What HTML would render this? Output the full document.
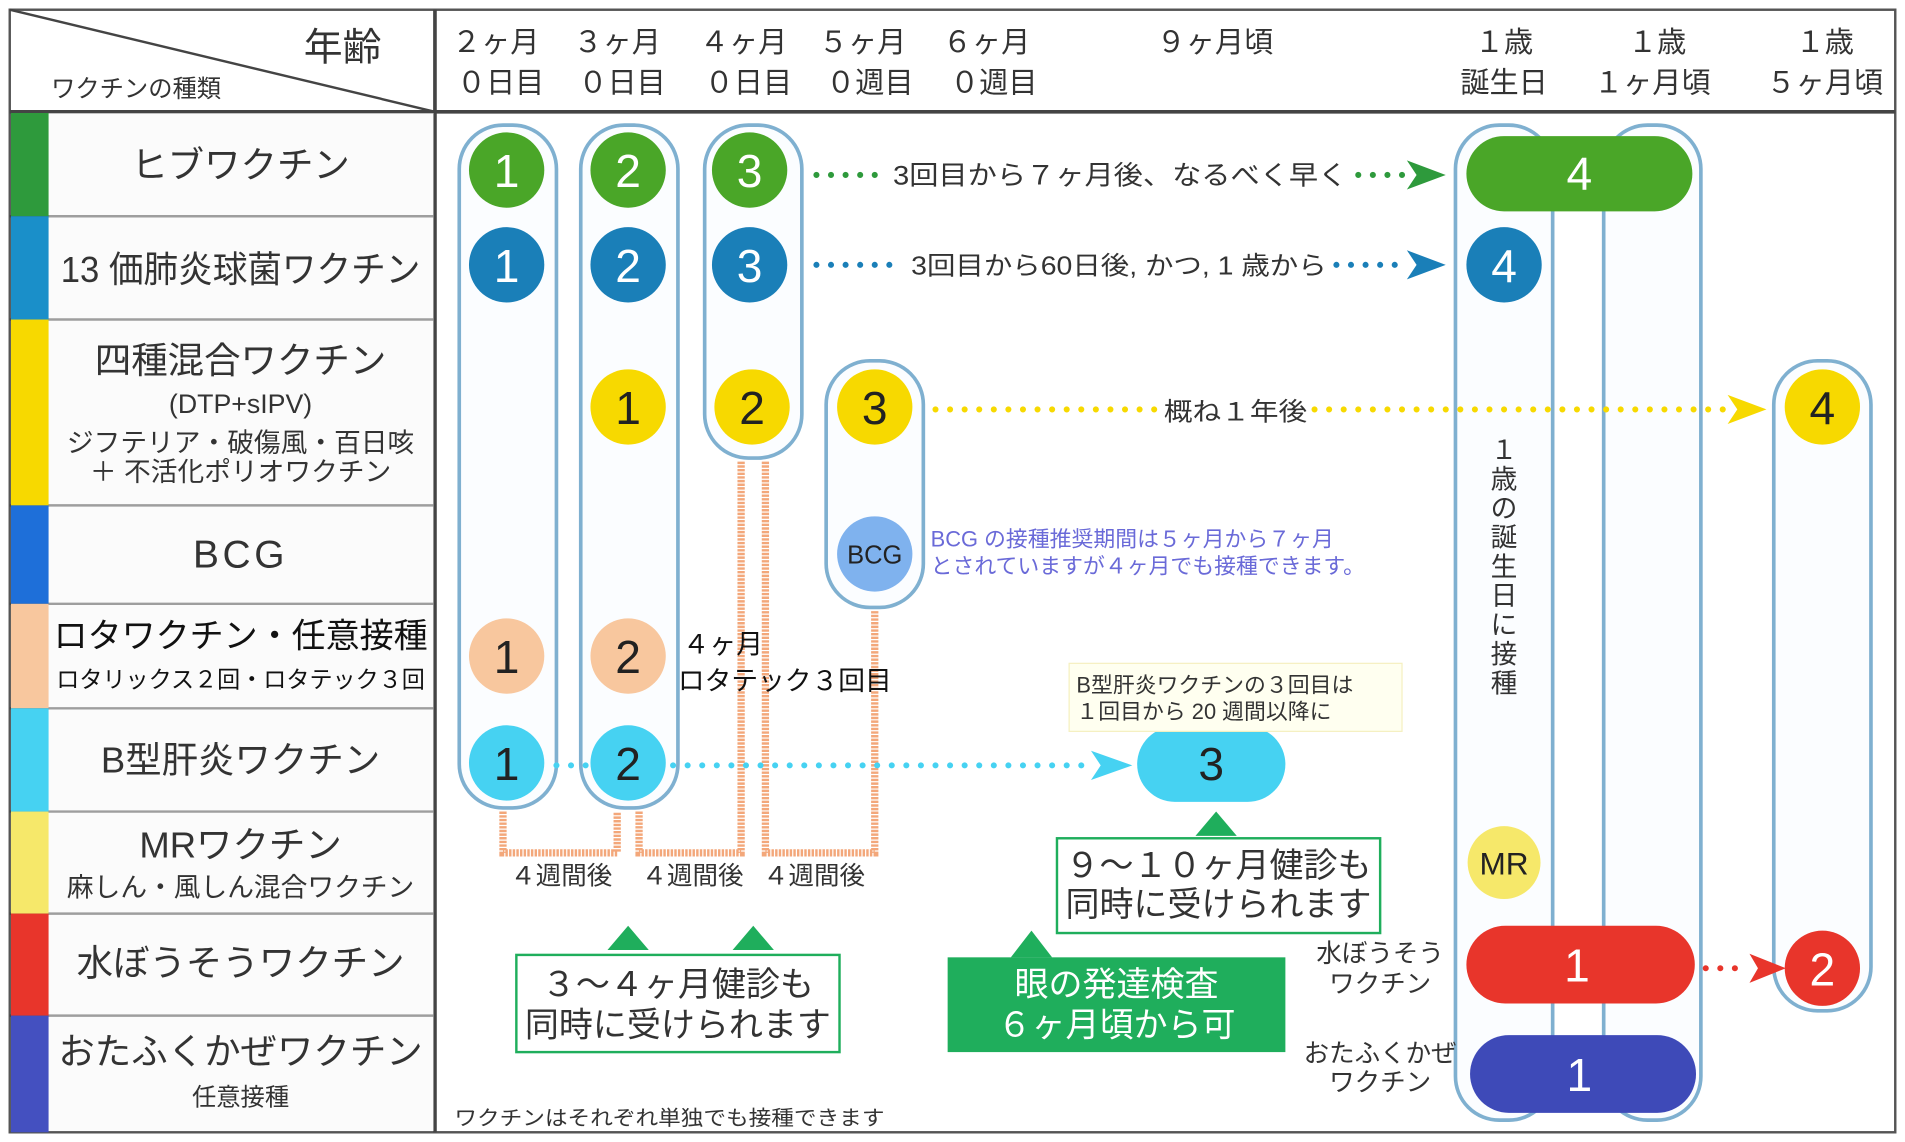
<!DOCTYPE html>
<html><head><meta charset="utf-8"><style>
html,body{margin:0;padding:0;background:#fff;}
svg{display:block;}
text{font-family:"Liberation Sans","Noto Sans CJK JP",sans-serif;}
</style></head><body>
<svg width="1905" height="1142" viewBox="0 0 1568 940" xmlns="http://www.w3.org/2000/svg">
<rect width="1568" height="940" fill="#fff"/>
<g stroke="#444" stroke-width="2" fill="none">
<rect x="8" y="8" width="1552" height="924" stroke="#555"/>
<line x1="358" y1="8" x2="358" y2="932" stroke-width="3"/>
<line x1="8" y1="92" x2="1560" y2="92" stroke-width="3"/>
<line x1="8" y1="8" x2="358" y2="92" stroke-width="2"/>
<line x1="8" y1="178" x2="358" y2="178"/>
<line x1="8" y1="263" x2="358" y2="263"/>
<line x1="8" y1="416" x2="358" y2="416"/>
<line x1="8" y1="497" x2="358" y2="497"/>
<line x1="8" y1="583" x2="358" y2="583"/>
<line x1="8" y1="668" x2="358" y2="668"/>
<line x1="8" y1="752" x2="358" y2="752"/>
<line x1="8" y1="836" x2="358" y2="836"/>
</g>
<rect x="9" y="93" width="31" height="85" fill="#2e9a3c"/>
<rect x="9" y="178" width="31" height="85" fill="#1a8fc9"/>
<rect x="9" y="263" width="31" height="153" fill="#f7d900"/>
<rect x="9" y="416" width="31" height="81" fill="#1e6fd9"/>
<rect x="9" y="497" width="31" height="86" fill="#f8c79e"/>
<rect x="9" y="583" width="31" height="85" fill="#46d2f2"/>
<rect x="9" y="668" width="31" height="84" fill="#f6e86a"/>
<rect x="9" y="752" width="31" height="84" fill="#e8352b"/>
<rect x="9" y="836" width="31" height="96" fill="#4450c0"/>
<rect x="40" y="93" width="317" height="838" fill="#f7f7f7" opacity="0.5"/>
<g fill="#333" font-size="30" text-anchor="middle">
<text x="282" y="50" font-size="32">年齢</text>
<text x="112" y="80" font-size="20">ワクチンの種類</text>
<text x="198" y="146">ヒブワクチン</text>
<text x="198" y="232" textLength="296" lengthAdjust="spacingAndGlyphs">13 価肺炎球菌ワクチン</text>
<text x="198" y="307">四種混合ワクチン</text>
<text x="198" y="340" font-size="22">(DTP+sIPV)</text>
<text x="198" y="372" font-size="22">ジフテリア・破傷風・百日咳</text>
<text x="198" y="396" font-size="22">＋ 不活化ポリオワクチン</text>
<text x="198" y="467" font-size="32" letter-spacing="3">BCG</text>
<text x="198" y="533" font-size="28" fill="#111">ロタワクチン・任意接種</text>
<text x="198" y="566" font-size="19" fill="#111">ロタリックス２回・ロタテック３回</text>
<text x="198" y="636">B型肝炎ワクチン</text>
<text x="198" y="706">MRワクチン</text>
<text x="198" y="738" font-size="22">麻しん・風しん混合ワクチン</text>
<text x="198" y="803">水ぼうそうワクチン</text>
<text x="198" y="876">おたふくかぜワクチン</text>
<text x="198" y="910" font-size="20">任意接種</text>
</g>
<g fill="#333" font-size="24" text-anchor="middle">
<text x="408" y="43">２ヶ月</text><text x="412" y="76">０日目</text>
<text x="508" y="43">３ヶ月</text><text x="512" y="76">０日目</text>
<text x="612" y="43">４ヶ月</text><text x="616" y="76">０日目</text>
<text x="710" y="43">５ヶ月</text><text x="716" y="76">０週目</text>
<text x="812" y="43">６ヶ月</text><text x="818" y="76">０週目</text>
<text x="1000" y="43">９ヶ月頃</text>
<text x="1238" y="43">１歳</text><text x="1238" y="76">誕生日</text>
<text x="1364" y="43">１歳</text><text x="1360" y="76">１ヶ月頃</text>
<text x="1502" y="43">１歳</text><text x="1502" y="76">５ヶ月頃</text>
</g>
<g fill="#fbfdff" stroke="#7fb0d0" stroke-width="3">
<rect x="378" y="103" width="80" height="562" rx="36"/>
<rect x="478" y="103" width="80" height="562" rx="36"/>
<rect x="580" y="103" width="80" height="274" rx="36"/>
<rect x="680" y="297" width="80" height="203" rx="36"/>
<rect x="1198" y="103" width="80" height="819" rx="36"/>
<rect x="1320" y="103" width="80" height="819" rx="36"/>
<rect x="1460" y="297" width="80" height="535" rx="36"/>
</g>
<g stroke="#f3a77a" stroke-width="6" fill="none" stroke-dasharray="2 1">
<path d="M414 668 V702 H508 V668"/>
<path d="M526 668 V702 H610 V380"/>
<path d="M630 380 V702 H720 V503"/>
</g>
<g fill="#333" font-size="21" text-anchor="middle">
<text x="462" y="728">４週間後</text><text x="570" y="728">４週間後</text><text x="670" y="728">４週間後</text>
</g>
<g stroke-width="5" stroke-linecap="round" fill="none" stroke-dasharray="0 12">
<line x1="672" y1="144" x2="724" y2="144" stroke="#2e9a3c"/>
<line x1="1118" y1="144" x2="1160" y2="144" stroke="#2e9a3c"/>
<line x1="672" y1="218" x2="740" y2="218" stroke="#1a7fb8"/>
<line x1="1100" y1="218" x2="1160" y2="218" stroke="#1a7fb8"/>
<line x1="770" y1="337" x2="952" y2="337" stroke="#f7d900"/>
<line x1="1082" y1="337" x2="1424" y2="337" stroke="#f7d900"/>
<line x1="458" y1="630" x2="900" y2="630" stroke="#46d2f2"/>
<line x1="1404" y1="797" x2="1440" y2="797" stroke="#e8352b"/>
</g>
<polygon points="1158,132 1190,144 1158,156 1166,144" fill="#2e9a3c"/>
<polygon points="1158,206 1190,218 1158,230 1166,218" fill="#1a7fb8"/>
<polygon points="1422,325 1454,337 1422,349 1430,337" fill="#f7d900"/>
<polygon points="898,618 932,630 898,642 906,630" fill="#46d2f2"/>
<polygon points="1440,785 1470,797 1440,809 1447,797" fill="#e8352b"/>
<g fill="#333" font-size="22">
<text x="735" y="152" textLength="374" lengthAdjust="spacingAndGlyphs">3回目から７ヶ月後、なるべく早く</text>
<text x="750" y="226" font-size="21" textLength="342" lengthAdjust="spacingAndGlyphs">3回目から60日後, かつ, 1 歳から</text>
<text x="958" y="346" font-size="21" textLength="118" lengthAdjust="spacingAndGlyphs">概ね１年後</text>
</g>
<g font-size="38" text-anchor="middle" fill="#fff">
<circle cx="417" cy="140" r="31" fill="#4aa628"/><text x="417" y="154">1</text>
<circle cx="517" cy="140" r="31" fill="#4aa628"/><text x="517" y="154">2</text>
<circle cx="617" cy="140" r="31" fill="#4aa628"/><text x="617" y="154">3</text>
<rect x="1207" y="112" width="186" height="62" rx="31" fill="#4aa628"/><text x="1300" y="156">4</text>
<circle cx="417" cy="218" r="31" fill="#1a7fb8"/><text x="417" y="232">1</text>
<circle cx="517" cy="218" r="31" fill="#1a7fb8"/><text x="517" y="232">2</text>
<circle cx="617" cy="218" r="31" fill="#1a7fb8"/><text x="617" y="232">3</text>
<circle cx="1238" cy="218" r="31" fill="#1a7fb8"/><text x="1238" y="232">4</text>
<g fill="#222">
<circle cx="517" cy="335" r="31" fill="#f7d900"/><text x="517" y="349">1</text>
<circle cx="619" cy="335" r="31" fill="#f7d900"/><text x="619" y="349">2</text>
<circle cx="720" cy="335" r="31" fill="#f7d900"/><text x="720" y="349">3</text>
<circle cx="1500" cy="335" r="31" fill="#f7d900"/><text x="1500" y="349">4</text>
<circle cx="720" cy="456" r="31" fill="#7fb2ee"/><text x="720" y="464" font-size="21">BCG</text>
<circle cx="417" cy="540" r="31" fill="#f8c79e"/><text x="417" y="554">1</text>
<circle cx="517" cy="540" r="31" fill="#f8c79e"/><text x="517" y="554">2</text>
<circle cx="417" cy="628" r="31" fill="#46d2f2"/><text x="417" y="642">1</text>
<circle cx="517" cy="628" r="31" fill="#46d2f2"/><text x="517" y="642">2</text>
<rect x="936" y="598" width="122" height="62" rx="31" fill="#46d2f2"/><text x="997" y="642">3</text>
<circle cx="1238" cy="710" r="30" fill="#f6e86a"/><text x="1238" y="720" font-size="26">MR</text>
</g>
<rect x="1207" y="762" width="188" height="64" rx="32" fill="#e8352b"/><text x="1298" y="808">1</text>
<circle cx="1500" cy="797" r="31" fill="#e8352b"/><text x="1500" y="811">2</text>
<rect x="1210" y="852" width="186" height="64" rx="32" fill="#3e4ab8"/><text x="1300" y="898">1</text>
</g>
<g fill="#6a6ad8" font-size="18">
<text x="766" y="450">BCG の接種推奨期間は５ヶ月から７ヶ月</text>
<text x="766" y="472">とされていますが４ヶ月でも接種できます。</text>
</g>
<g fill="#111" font-size="22">
<text x="562" y="538">４ヶ月</text>
<text x="558" y="568">ロタテック３回目</text>
</g>
<rect x="880" y="546" width="274" height="56" fill="#fffff0" stroke="#f5f0c0"/>
<g fill="#333" font-size="18"><text x="886" y="570">B型肝炎ワクチンの３回目は</text><text x="886" y="592">１回目から 20 週間以降に</text></g>
<g fill="#333" font-size="22" text-anchor="middle">
<text x="1238" y="378">１</text><text x="1238" y="402">歳</text><text x="1238" y="426">の</text><text x="1238" y="450">誕</text><text x="1238" y="474">生</text><text x="1238" y="498">日</text><text x="1238" y="522">に</text><text x="1238" y="546">接</text><text x="1238" y="570">種</text>
<text x="1136" y="792" font-size="21">水ぼうそう</text><text x="1136" y="817" font-size="21">ワクチン</text>
<text x="1136" y="874" font-size="21">おたふくかぜ</text><text x="1136" y="898" font-size="21">ワクチン</text>
</g>
<polygon points="500,782 517,762 534,782" fill="#1fae5c"/>
<polygon points="603,782 620,762 637,782" fill="#1fae5c"/>
<rect x="425" y="786" width="266" height="80" fill="#fff" stroke="#1fae5c" stroke-width="2"/>
<g fill="#333" font-size="28" text-anchor="middle"><text x="558" y="820">３～４ヶ月健診も</text><text x="558" y="853">同時に受けられます</text></g>
<polygon points="984,688 1001,668 1018,688" fill="#1fae5c"/>
<rect x="870" y="690" width="266" height="78" fill="#fff" stroke="#1fae5c" stroke-width="2"/>
<g fill="#333" font-size="28" text-anchor="middle"><text x="1003" y="722">９～１０ヶ月健診も</text><text x="1003" y="754">同時に受けられます</text></g>
<polygon points="832,788 849,766 866,788" fill="#1fae5c"/>
<rect x="780" y="788" width="278" height="78" fill="#1fae5c"/>
<g fill="#fff" font-size="28" text-anchor="middle"><text x="919" y="820">眼の発達検査</text><text x="919" y="853">６ヶ月頃から可</text></g>
<text x="374" y="926" fill="#333" font-size="17" textLength="354" lengthAdjust="spacingAndGlyphs">ワクチンはそれぞれ単独でも接種できます</text>
</svg>
</body></html>
